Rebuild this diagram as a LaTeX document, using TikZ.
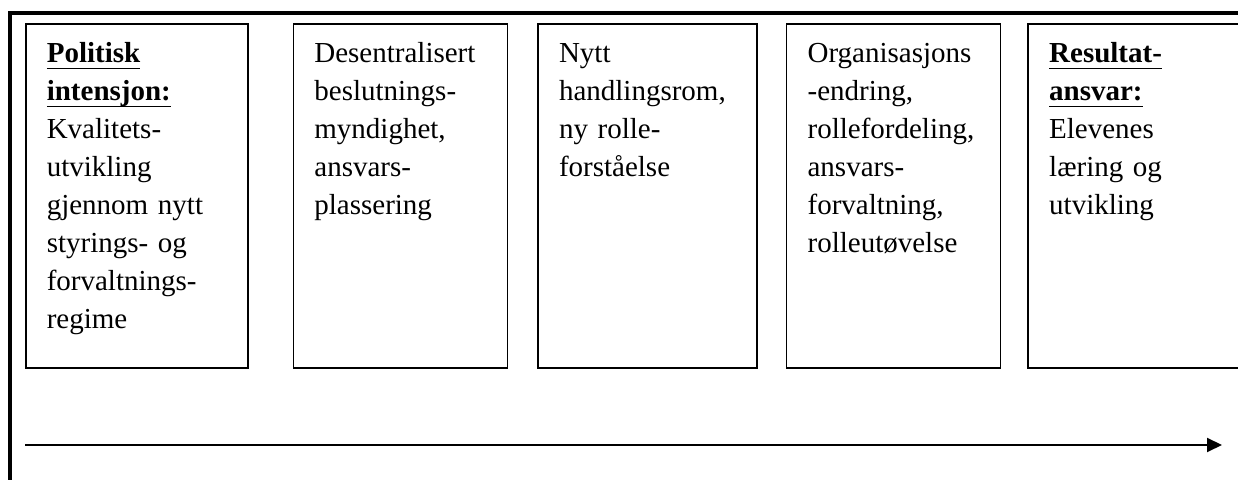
\documentclass[tikz,border=0pt]{standalone}
\usepackage{fontspec}
\setmainfont{Liberation Serif}
\usetikzlibrary{positioning,arrows.meta}

\newcommand{\ulhead}[1]{\leavevmode\setbox0\hbox{\textbf{#1}}\rlap{\rule[-3.3pt]{\wd0}{0.9pt}}\box0}

\begin{document}
\begin{tikzpicture}[x=0.5pt,y=-0.5pt,
  stage/.style={draw,rectangle,line width=0.8pt,align=left,
    inner xsep=10.5pt,inner ysep=0pt,text height=19.5pt,text depth=152.5pt,
    font=\fontsize{14.5}{19}\selectfont}]
  \useasboundingbox (0,0) rectangle (1238,480);

  % outer frame
  \draw[line width=1.6pt] (10,500) -- (10,13) -- (1260,13);

  \node[stage, text width=90pt, anchor=north west] (intensjon) at (25,23)
    {\ulhead{Politisk}\\ \ulhead{intensjon:}\\ Kvalitets-\\ utvikling\\ gjennom nytt\\ styrings- og\\ forvaltnings-\\ regime};
  \node[stage, text width=86pt, right=22pt of intensjon.north east, anchor=north west] (myndighet)
    {Desentralisert\\ beslutnings-\\ myndighet,\\ ansvars-\\ plassering};
  \node[stage, text width=88.5pt, right=14.5pt of myndighet.north east, anchor=north west] (handling)
    {Nytt\\ handlingsrom,\\ ny rolle-\\ forståelse};
  \node[stage, text width=86pt, right=14pt of handling.north east, anchor=north west] (endring)
    {Organisasjons\\ -endring,\\ rollefordeling,\\ ansvars-\\ forvaltning,\\ rolleutøvelse};
  \node[stage, text width=90pt, right=13pt of endring.north east, anchor=north west] (resultat)
    {\ulhead{Resultat-}\\ \ulhead{ansvar:}\\ Elevenes\\ læring og\\ utvikling};

  % time axis
  \coordinate (tstart) at (25,445);
  \coordinate (tend) at (1222,445);
  \draw[line width=1pt,-{Triangle[length=7.5pt,width=7pt]}] (tstart) -- (tend);
\end{tikzpicture}
\end{document}
